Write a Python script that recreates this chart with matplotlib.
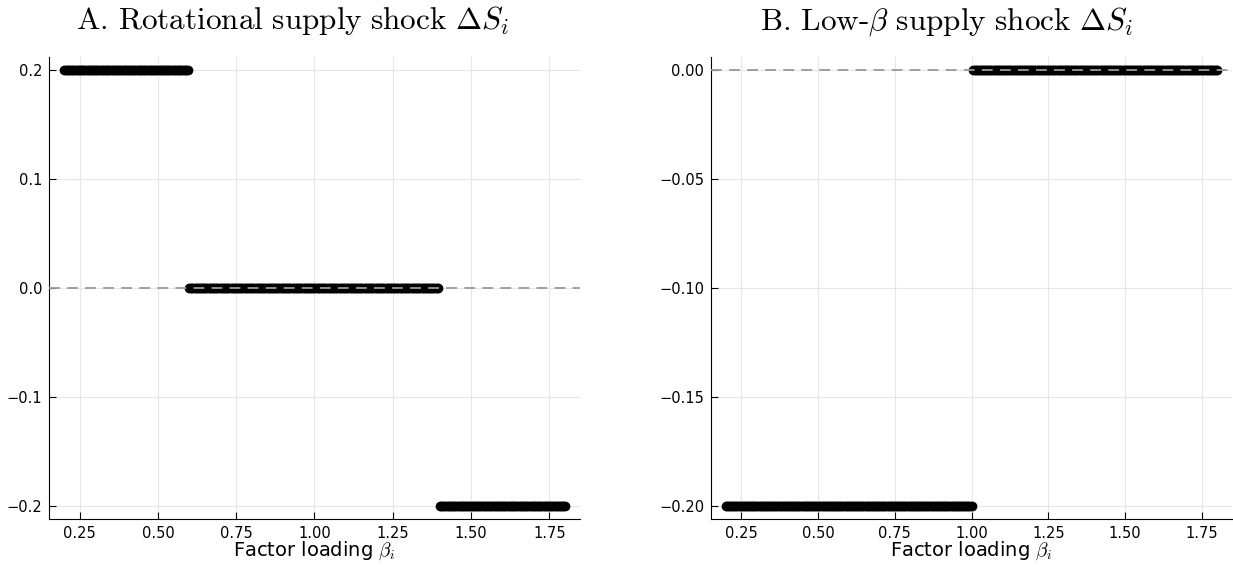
import matplotlib.pyplot as plt
import numpy as np

# DATA
beta_start, beta_stop, beta_step = 0.2, 1.8, 0.005
cuts_A = [0.6, 1.4]
levels_A = [0.2, 0.0, -0.2]
cuts_B = [1.0]
levels_B = [-0.2, 0.0]

yticks_A = [-0.2, -0.1, 0.0, 0.1, 0.2]
yticks_B = [-0.20, -0.15, -0.10, -0.05, 0.00]
xticks = [0.25, 0.50, 0.75, 1.00, 1.25, 1.50, 1.75]

beta = np.round(np.arange(beta_start, beta_stop + beta_step / 2, beta_step), 4)
shock_A = np.array(levels_A)[np.searchsorted(cuts_A, beta, side='right')]
shock_B = np.array(levels_B)[np.searchsorted(cuts_B, beta, side='left')]

plt.rcParams['mathtext.fontset'] = 'cm'

fig = plt.figure(figsize=(12.33, 5.67), dpi=100)
ax1 = fig.add_axes([49 / 1233, 48 / 567, 531 / 1233, 462 / 567])
ax2 = fig.add_axes([711 / 1233, 48 / 567, 521 / 1233, 462 / 567])

panels = [
    (ax1, shock_A, r'$\mathrm{A.\,Rotational\ supply\ shock\ }\mathit{\Delta S_i}$',
     yticks_A, ['−0.2', '−0.1', '0.0', '0.1', '0.2'], (-0.212, 0.212), 0.458),
    (ax2, shock_B, r'$\mathrm{B.\,Low\text{-}}\beta\mathrm{\ supply\ shock\ }\mathit{\Delta S_i}$',
     yticks_B, ['−0.20', '−0.15', '−0.10', '−0.05', '0.00'], (-0.206, 0.006), 0.451),
]

for ax, y, title, yt, ytl, ylim, tx in panels:
    ax.grid(True, color='#e6e6e6', linewidth=0.8)
    ax.set_axisbelow(True)
    ax.plot(beta, y, 'o', color='black', markersize=6, zorder=3)
    ax.axhline(0, color='#999999', linestyle=(0, (6, 4)), linewidth=1.3, zorder=4)
    ax.set_xlim(0.152, 1.848)
    ax.set_ylim(*ylim)
    ax.set_xticks(xticks)
    ax.set_xticklabels(['%.2f' % t for t in xticks])
    ax.set_yticks(yt)
    ax.set_yticklabels(ytl)
    ax.tick_params(direction='in', labelsize=10.5, length=5, pad=5)
    for s in ['top', 'right']:
        ax.spines[s].set_visible(False)
    ax.set_xlabel(r'Factor loading $\beta_i$', fontsize=14, labelpad=-1)
    ax.set_title(title, fontsize=22.5, pad=20, x=tx)

fig.savefig('out.png', dpi=100)
